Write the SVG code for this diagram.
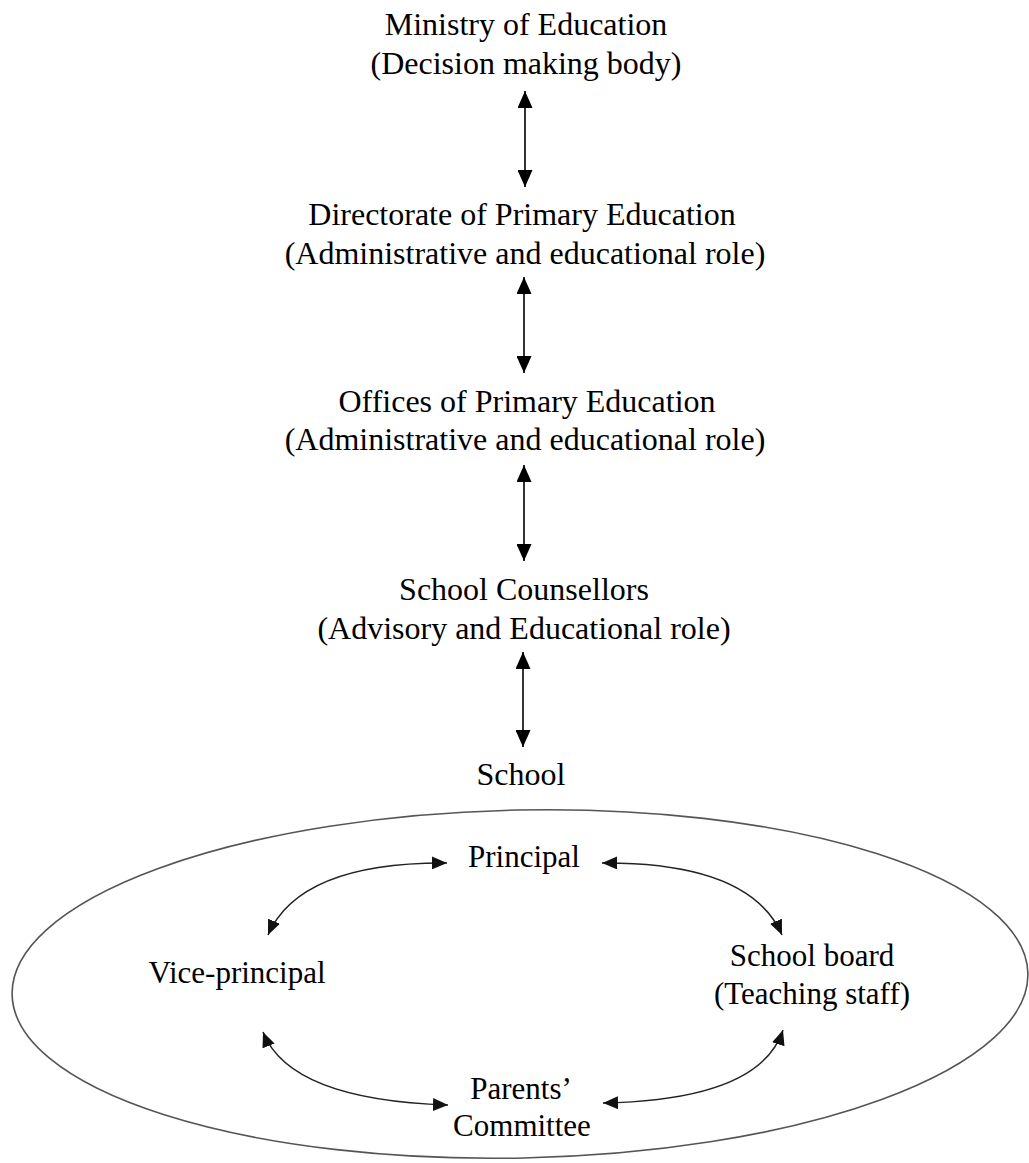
<svg xmlns="http://www.w3.org/2000/svg" width="1029" height="1163" viewBox="0 0 1029 1163">
<style>
text{font-family:"Liberation Serif","Times New Roman",serif;font-size:32px;fill:#000;text-anchor:middle}
.in text{font-size:31px}
.v{stroke:#000;stroke-width:1.6;fill:none}
.c{stroke:#222;stroke-width:1.5;fill:none}
</style>
<defs>
<marker id="big" viewBox="0 0 17 15" refX="17" refY="7.5" markerWidth="17" markerHeight="15" orient="auto-start-reverse" markerUnits="userSpaceOnUse"><path d="M0,0 L17,7.5 L0,15 z" fill="#000"/></marker>
<marker id="sm" viewBox="0 0 15 13" refX="15" refY="6.5" markerWidth="15" markerHeight="13" orient="auto-start-reverse" markerUnits="userSpaceOnUse"><path d="M0,0 L15,6.5 L0,13 z" fill="#111"/></marker>
</defs>
<rect width="1029" height="1163" fill="#fff"/>
<g id="boundary"><ellipse cx="520" cy="984" rx="508" ry="174" transform="rotate(-1.2 520 984)" fill="none" stroke="#555" stroke-width="1.6"/></g>
<g id="ministry"><text x="526" y="35">Ministry of Education</text><text x="526" y="74">(Decision making body)</text></g>
<g id="directorate"><text x="522" y="225">Directorate of Primary Education</text><text x="525" y="264">(Administrative and educational role)</text></g>
<g id="offices"><text x="527" y="412">Offices of Primary Education</text><text x="525" y="450">(Administrative and educational role)</text></g>
<g id="counsellors"><text x="524" y="600">School Counsellors</text><text x="524" y="639">(Advisory and Educational role)</text></g>
<g id="school"><text x="521" y="785">School</text></g>
<g class="in">
<g id="principal"><text x="524" y="867">Principal</text></g>
<g id="vice"><text x="237" y="983">Vice-principal</text></g>
<g id="board"><text x="812" y="966">School board</text><text x="812" y="1004">(Teaching staff)</text></g>
<g id="parents"><text x="521" y="1099">Parents’</text><text x="522" y="1136">Committee</text></g>
</g>
<g id="connectors">
<line class="v" x1="525" y1="91" x2="525" y2="187" marker-start="url(#big)" marker-end="url(#big)"/>
<line class="v" x1="524" y1="277" x2="524" y2="373" marker-start="url(#big)" marker-end="url(#big)"/>
<line class="v" x1="524" y1="465" x2="524" y2="561" marker-start="url(#big)" marker-end="url(#big)"/>
<line class="v" x1="523" y1="652" x2="523" y2="747" marker-start="url(#big)" marker-end="url(#big)"/>
<path class="c" d="M447,863 Q300,862 268,935" marker-start="url(#sm)" marker-end="url(#sm)"/>
<path class="c" d="M602,863 Q750,862 782,935" marker-start="url(#sm)" marker-end="url(#sm)"/>
<path class="c" d="M263,1032 Q290,1100 448,1105" marker-start="url(#sm)" marker-end="url(#sm)"/>
<path class="c" d="M783,1030 Q760,1100 603,1103" marker-start="url(#sm)" marker-end="url(#sm)"/>
</g>
</svg>
